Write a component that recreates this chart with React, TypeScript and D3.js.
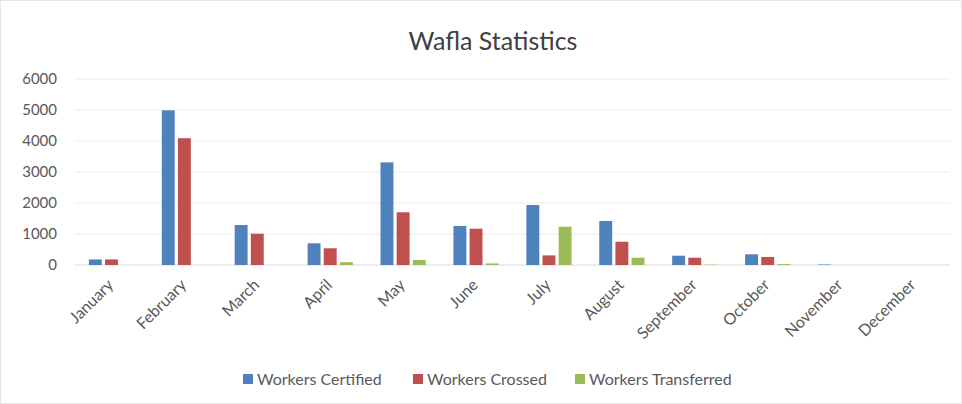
import React, { useEffect, useRef } from 'react';
import * as d3 from 'd3';

const months = [
  'January', 'February', 'March', 'April', 'May', 'June',
  'July', 'August', 'September', 'October', 'November', 'December',
];
const seriesNames = ['Workers Certified', 'Workers Crossed', 'Workers Transferred'];
const certified = [180, 4990, 1290, 700, 3310, 1260, 1935, 1420, 300, 345, 15, 0];
const crossed = [180, 4090, 1010, 540, 1700, 1170, 310, 750, 235, 260, 0, 0];
const transferred = [0, 0, 0, 90, 160, 50, 1235, 235, 10, 30, 0, 0];
const yTicks = [0, 1000, 2000, 3000, 4000, 5000, 6000];
const colors = ['#4F81BD', '#C0504D', '#9BBB59'];

const W = 962;
const H = 404;

const App: React.FC = () => {
  const ref = useRef(null);

  useEffect(() => {
    document.body.style.margin = '0';
    const svg = d3.select(ref.current);
    svg.selectAll('*').remove();

    const font = 'Lato, "Open Sans", sans-serif';
    const margin = { top: 79, right: 12, bottom: 139, left: 75 };
    const width = W - margin.left - margin.right;
    const height = H - margin.top - margin.bottom;

    svg.append('rect')
      .attr('x', 0.5).attr('y', 0.5)
      .attr('width', W - 1).attr('height', H - 1)
      .attr('fill', '#fff').attr('stroke', '#e6e6e6');

    svg.append('text')
      .attr('x', 493).attr('y', 50)
      .attr('text-anchor', 'middle')
      .attr('font-family', font).attr('font-size', 25)
      .attr('fill', '#404040')
      .text('Wafla Statistics');

    const g = svg.append('g')
      .attr('transform', `translate(${margin.left},${margin.top})`);

    const x0 = d3.scaleBand().domain(months).range([0, width]).paddingInner(0.38).paddingOuter(0.19);
    const x1 = d3.scaleBand().domain(seriesNames).range([0, x0.bandwidth()]).paddingInner(0.2);
    const y = d3.scaleLinear().domain([0, 6000]).range([height, 0]);

    // gridlines
    g.append('g')
      .selectAll('line')
      .data(yTicks)
      .enter()
      .append('line')
      .attr('x1', 0).attr('x2', width)
      .attr('y1', (d) => y(d)).attr('y2', (d) => y(d))
      .attr('stroke', (d) => (d === 0 ? '#d9d9d9' : '#ececec'))
      .attr('stroke-width', 1);

    const yAxis = g.append('g').call(
      d3.axisLeft(y).tickValues(yTicks).tickFormat(d3.format('d')).tickSize(0).tickPadding(18)
    );
    yAxis.select('.domain').remove();
    yAxis.selectAll('text')
      .attr('font-family', font).attr('font-size', 15).attr('fill', '#595959');

    const data = [certified, crossed, transferred];
    const groups = g.append('g')
      .selectAll('g')
      .data(months)
      .enter()
      .append('g')
      .attr('transform', (d) => `translate(${x0(d)},0)`);

    groups.selectAll('rect')
      .data((_, i) => seriesNames.map((s, k) => ({ s, k, v: data[k][i] })))
      .enter()
      .append('rect')
      .attr('x', (d) => x1(d.s))
      .attr('width', x1.bandwidth())
      .attr('y', (d) => y(d.v))
      .attr('height', (d) => height - y(d.v))
      .attr('fill', (d) => colors[d.k]);

    const xAxis = g.append('g')
      .attr('transform', `translate(0,${height})`)
      .call(d3.axisBottom(x0).tickSize(0).tickPadding(0));
    xAxis.select('.domain').remove();
    xAxis.selectAll('text')
      .attr('font-family', font).attr('font-size', 16).attr('fill', '#595959')
      .style('text-anchor', 'end')
      .attr('dy', '0')
      .attr('transform', 'translate(3,21) rotate(-45)');

    // legend
    const legendX = [243, 413, 575];
    const legend = svg.append('g').attr('transform', 'translate(0,379)');
    seriesNames.forEach((name, i) => {
      legend.append('rect')
        .attr('x', legendX[i]).attr('y', -5)
        .attr('width', 10).attr('height', 10)
        .attr('fill', colors[i]);
      legend.append('text')
        .attr('x', legendX[i] + 14).attr('y', 6)
        .attr('font-family', font).attr('font-size', 16).attr('fill', '#595959')
        .text(name);
    });
  }, []);

  return <svg width={W} height={H} ref={ref} style={{ display: 'block' }} />;
};

export default App;
